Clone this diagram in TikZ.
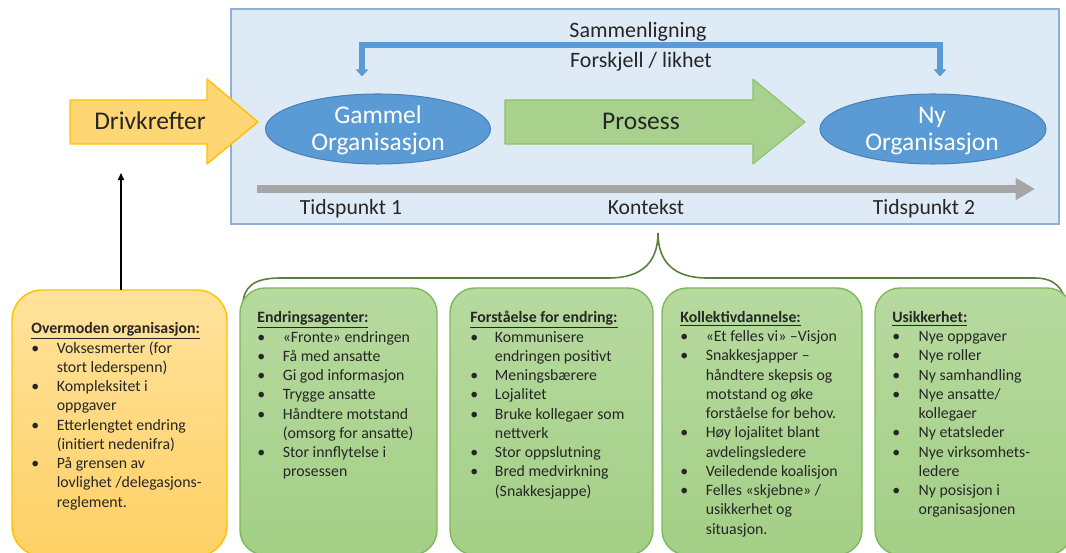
\documentclass[tikz,border=0pt]{standalone}
\usepackage{fontspec}
\setmainfont{Carlito}
\usetikzlibrary{arrows.meta,shapes.geometric}

\definecolor{ctxfill}{HTML}{DEEBF7}
\definecolor{ctxline}{HTML}{92AFD4}
\definecolor{orgblue}{HTML}{5B9BD5}
\definecolor{orgline}{HTML}{4A82B8}
\definecolor{drvfill}{HTML}{FFD674}
\definecolor{drvline}{HTML}{FFC000}
\definecolor{prcfill}{HTML}{A9D18E}
\definecolor{prcline}{HTML}{8CC168}
\definecolor{timegray}{HTML}{A6A6A6}
\definecolor{boxtop}{HTML}{B7DA9F}
\definecolor{boxbot}{HTML}{A3CF86}
\definecolor{boxline}{HTML}{7FB85A}
\definecolor{bracegreen}{HTML}{5A7F3C}
\definecolor{ovmtop}{HTML}{FFE29C}
\definecolor{ovmbot}{HTML}{FFD166}
\definecolor{txt}{HTML}{262626}

\newcommand{\hd}[1]{\underline{\textbf{#1}}}

\tikzset{
  bodytxt/.style={anchor=base west,inner sep=0pt,text=txt,font=\fontsize{9}{10.95}\selectfont},
  bigtxt/.style={anchor=base,text=txt,inner sep=0pt,font=\fontsize{14.5}{15.3}\selectfont},
  midtxt/.style={anchor=base,text=txt,inner sep=0pt,font=\fontsize{12.3}{14}\selectfont},
  oval/.style={ellipse,fill=orgblue,draw=orgline,line width=0.6pt,inner sep=0pt,minimum height=1.4cm},
  ovaltxt/.style={anchor=base,text=white,inner sep=0pt,font=\fontsize{14.5}{15.3}\selectfont},
  gbox/.style={top color=boxtop,bottom color=boxbot,draw=boxline,line width=0.8pt,rounded corners=0.5cm},
}

\begin{document}
\begin{tikzpicture}[x=0.02cm,y=-0.02cm]
	\useasboundingbox (0,0) rectangle (1066,553);
	\clip (0,0) rectangle (1066,553);

	% kontekst
	\draw[fill=ctxfill,draw=ctxline,line width=0.9pt] (231,9) rectangle (1059,224);

	% drivkrefter og prosess
	\draw[fill=drvfill,draw=drvline,line width=0.8pt,line join=round]
		(70,100) -- (207,100) -- (207,79) -- (258,122) -- (207,164) -- (207,144) -- (70,144) -- cycle;
	\node[bigtxt] (drv) at (150,129.3) {Drivkrefter};
	\draw[fill=prcfill,draw=prcline,line width=0.6pt,line join=round]
		(505,100) -- (753,100) -- (753,79) -- (805,122) -- (753,164) -- (753,144) -- (505,144) -- cycle;
	\node[bigtxt] (prc) at (641,129.3) {Prosess};

	\node[oval,minimum width=4.5cm] (gam) at (378,129) {};
	\node[ovaltxt] (gamtop) at (378,124) {Gammel};
	\node[ovaltxt] (gambot) at (378,150.7) {Organisasjon};
	\node[oval,minimum width=4.52cm] (ny) at (933,129) {};
	\node[ovaltxt] (nytop) at (932,124) {Ny};
	\node[ovaltxt] (nybot) at (932,150.7) {Organisasjon};

	% sammenligning
	\draw[orgblue,line width=3pt,{Triangle[width=7pt,length=4pt]}-{Triangle[width=7pt,length=4pt]}]
		([shift={(-16,-17)}]gam.north) -- ++(0,-31.5) -| ([shift={(7,-17)}]ny.north);
	\node[bigtxt,font=\fontsize{12.5}{14}\selectfont] (cmp) at (638,37.3) {Sammenligning};
	\node[midtxt,font=\fontsize{12.5}{14}\selectfont] (dif) at (641,68) {Forskjell / likhet};

	% tidslinje
	\coordinate (T0) at (257,189);
	\coordinate (T1) at (1035,189);
	\draw[timegray,line width=4.5pt,-{Triangle[length=11pt,width=12pt]}] (T0) -- (T1);
	\node[midtxt] (tp1) at (351,215) {Tidspunkt 1};
	\node[midtxt] (ktx) at (646,215) {Kontekst};
	\node[midtxt] (tp2) at (924,215) {Tidspunkt 2};

	% klamme
	\draw[bracegreen,line width=0.9pt]
		(243,305) .. controls (243,287) and (254,278) .. (280,278) -- (609,278)
		.. controls (642,278) and (658,262) .. (658,233)
		.. controls (658,262) and (674,278) .. (707,278) -- (1035,278)
		.. controls (1054,278) and (1064,288) .. (1066,305);

	% bokser
	\draw[top color=ovmtop,bottom color=ovmbot,draw=drvline,line width=0.8pt,rounded corners=0.6cm]
		(12,290) rectangle (227,556);
	\coordinate (ovmnorth) at (121,290);
	\foreach \xl/\xr in {240/437,450/653,662/862,875/1072}
		\draw[gbox] (\xl,288) rectangle (\xr,555);

	\node[bodytxt] (ovm) at (31,333.5) {\begin{tabular}[t]{@{}p{14.5pt}@{}l@{}}
		\multicolumn{2}{@{}l@{}}{\hd{Overmoden organisasjon:}}\\
		• & Voksesmerter (for\\
		  & stort lederspenn)\\
		• & Kompleksitet i\\
		  & oppgaver\\
		• & Etterlengtet endring\\
		  & (initiert nedenifra)\\
		• & På grensen av\\
		  & lovlighet /delegasjons-\\
		  & reglement.
		\end{tabular}};
	\node[bodytxt] (agt) at (257,322.5) {\begin{tabular}[t]{@{}p{14.5pt}@{}l@{}}
		\multicolumn{2}{@{}l@{}}{\hd{Endringsagenter:}}\\
		• & «Fronte» endringen\\
		• & Få med ansatte\\
		• & Gi god informasjon\\
		• & Trygge ansatte\\
		• & Håndtere motstand\\
		  & (omsorg for ansatte)\\
		• & Stor innflytelse i\\
		  & prosessen
		\end{tabular}};
	\node[bodytxt] (fst) at (470,322.5) {\begin{tabular}[t]{@{}p{14pt}@{}l@{}}
		\multicolumn{2}{@{}l@{}}{\hd{Forståelse for endring:}}\\
		• & Kommunisere\\
		  & endringen positivt\\
		• & Meningsbærere\\
		• & Lojalitet\\
		• & Bruke kollegaer som\\
		  & nettverk\\
		• & Stor oppslutning\\
		• & Bred medvirkning\\
		  & (Snakkesjappe)
		\end{tabular}};
	\node[bodytxt] (kol) at (680,322.5) {\begin{tabular}[t]{@{}p{14.5pt}@{}l@{}}
		\multicolumn{2}{@{}l@{}}{\hd{Kollektivdannelse:}}\\
		• & «Et felles vi» –Visjon\\
		• & Snakkesjapper –\\
		  & håndtere skepsis og\\
		  & motstand og øke\\
		  & forståelse for behov.\\
		• & Høy lojalitet blant\\
		  & avdelingsledere\\
		• & Veiledende koalisjon\\
		• & Felles «skjebne» /\\
		  & usikkerhet og\\
		  & situasjon.
		\end{tabular}};
	\node[bodytxt] (usk) at (892,322.5) {\begin{tabular}[t]{@{}p{15pt}@{}l@{}}
		\multicolumn{2}{@{}l@{}}{\hd{Usikkerhet:}}\\
		• & Nye oppgaver\\
		• & Nye roller\\
		• & Ny samhandling\\
		• & Nye ansatte/\\
		  & kollegaer\\
		• & Ny etatsleder\\
		• & Nye virksomhets-\\
		  & ledere\\
		• & Ny posisjon i\\
		  & organisasjonen
		\end{tabular}};

	% pil opp
	\coordinate (drvfoot) at (121,173);
	\draw[black,line width=0.7pt,-{Triangle[length=4pt,width=3.5pt]}] (ovmnorth) -- (drvfoot);
\end{tikzpicture}
\end{document}
